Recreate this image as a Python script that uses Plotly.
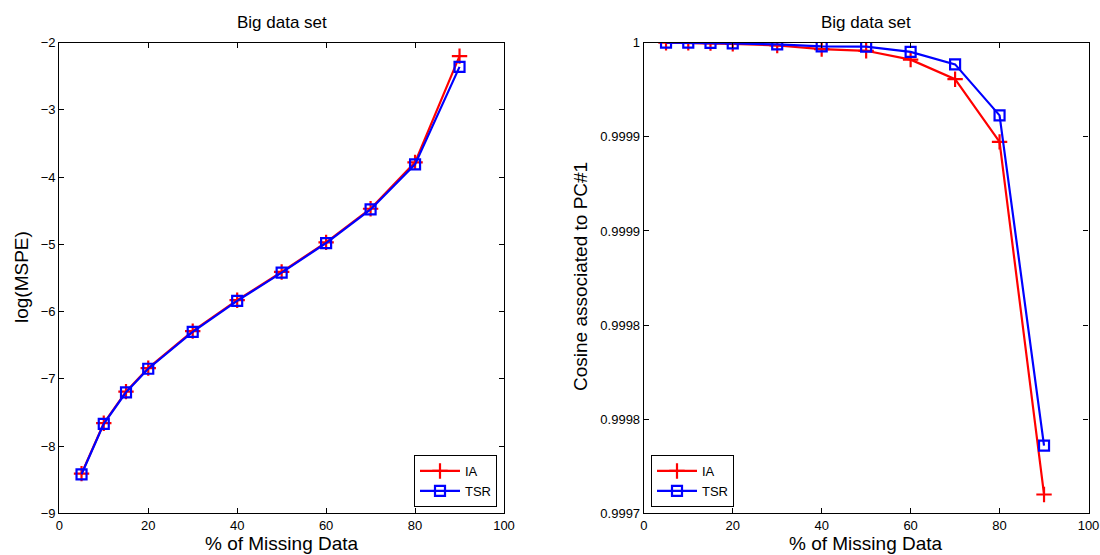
import plotly.graph_objects as go

missing = [5, 10, 15, 20, 30, 40, 50, 60, 70, 80, 90]
mspe_ia = [-8.41, -7.66, -7.19, -6.84, -6.29, -5.83, -5.41, -4.97, -4.47, -3.78, -2.20]
mspe_tsr = [-8.42, -7.67, -7.20, -6.85, -6.30, -5.84, -5.42, -4.98, -4.48, -3.81, -2.36]
cos_ia = [1.0, 0.9999999, 0.9999998, 0.9999994, 0.9999985, 0.9999966, 0.9999957, 0.999991, 0.9999806, 0.9999473, 0.99976]
cos_tsr = [1.0, 1.0, 0.9999999, 0.9999996, 0.9999991, 0.9999981, 0.9999979, 0.9999951, 0.9999885, 0.9999614, 0.999786]
cos_tickvals = [0.99975, 0.9998, 0.99985, 0.9999, 0.99995, 1.0]
cos_ticktext = ["0.9997", "0.9998", "0.9998", "0.9999", "0.9999", "1"]
x_ticks = [0, 20, 40, 60, 80, 100]
mspe_ticks = [-9, -8, -7, -6, -5, -4, -3, -2]

RED = "#ff0000"
BLUE = "#0000ff"
FONT = "Liberation Sans, Arial, Helvetica, sans-serif"

fig = go.Figure()

def add_pair(y_ia, y_tsr, xa, ya, legend):
    fig.add_trace(go.Scatter(x=missing, y=y_ia, name="IA", mode="lines+markers",
                             line=dict(color=RED, width=2.2),
                             marker=dict(symbol="cross-thin", size=11, line=dict(color=RED, width=2.2)),
                             xaxis=xa, yaxis=ya, legend=legend))
    fig.add_trace(go.Scatter(x=missing, y=y_tsr, name="TSR", mode="lines+markers",
                             line=dict(color=BLUE, width=2.2),
                             marker=dict(symbol="square-open", size=10, color=BLUE, line=dict(color=BLUE, width=2.2)),
                             xaxis=xa, yaxis=ya, legend=legend))

add_pair(mspe_ia, mspe_tsr, "x", "y", "legend")
add_pair(cos_ia, cos_tsr, "x2", "y2", "legend2")

ax_common = dict(showgrid=False, zeroline=False, showline=True, linecolor="black", linewidth=1.2,
                 mirror="ticks", ticks="inside", ticklen=5, tickcolor="black", tickwidth=1,
                 automargin=False,
                 tickfont=dict(family=FONT, size=13, color="black"))

top = 1 - 42.7 / 555
bot = 1 - 513.3 / 555

fig.update_layout(
    width=1100, height=555, autosize=False,
    margin=dict(l=0, r=0, t=0, b=0, autoexpand=False),
    paper_bgcolor="white", plot_bgcolor="white",
    font=dict(family=FONT, color="black"),
    xaxis=dict(domain=[59.3 / 1100, 504 / 1100], range=[0, 100], tickvals=x_ticks, anchor="y", **ax_common),
    yaxis=dict(domain=[bot, top], range=[-9, -2], tickvals=mspe_ticks, anchor="x", **ax_common),
    xaxis2=dict(domain=[643.8 / 1100, 1088.5 / 1100], range=[0, 100], tickvals=x_ticks, anchor="y2", **ax_common),
    yaxis2=dict(domain=[bot, top], range=[0.99975, 1.0], tickvals=cos_tickvals, ticktext=cos_ticktext,
                anchor="x2", **ax_common),
    legend=dict(x=497 / 1100, y=1 - 507 / 555, xanchor="right", yanchor="bottom",
                bgcolor="white", bordercolor="black", borderwidth=1,
                font=dict(family=FONT, size=13, color="black"), tracegroupgap=0, itemwidth=40),
    legend2=dict(x=651 / 1100, y=1 - 507 / 555, xanchor="left", yanchor="bottom",
                 bgcolor="white", bordercolor="black", borderwidth=1,
                 font=dict(family=FONT, size=13, color="black"), tracegroupgap=0, itemwidth=40),
    showlegend=True,
)

ann = []
for cx in [(59.3 + 504) / 2 / 1100, (643.8 + 1088.5) / 2 / 1100]:
    ann.append(dict(text="Big data set", x=cx, y=1 - 22 / 555, xref="paper", yref="paper",
                    xanchor="center", yanchor="middle",
                    showarrow=False, font=dict(family=FONT, size=17, color="black")))
    ann.append(dict(text="% of Missing Data", x=cx, y=1 - 543 / 555, xref="paper", yref="paper",
                    xanchor="center", yanchor="middle",
                    showarrow=False, font=dict(family=FONT, size=19, color="black")))
ann.append(dict(text="log(MSPE)", x=21 / 1100, y=1 - 277 / 555, xref="paper", yref="paper",
                xanchor="center", yanchor="middle",
                showarrow=False, textangle=-90, font=dict(family=FONT, size=19, color="black")))
ann.append(dict(text="Cosine associated to PC#1", x=580 / 1100, y=1 - 277 / 555, xref="paper", yref="paper",
                xanchor="center", yanchor="middle",
                showarrow=False, textangle=-90, font=dict(family=FONT, size=19, color="black")))
fig.update_layout(annotations=ann)

fig.write_html("out.html")
